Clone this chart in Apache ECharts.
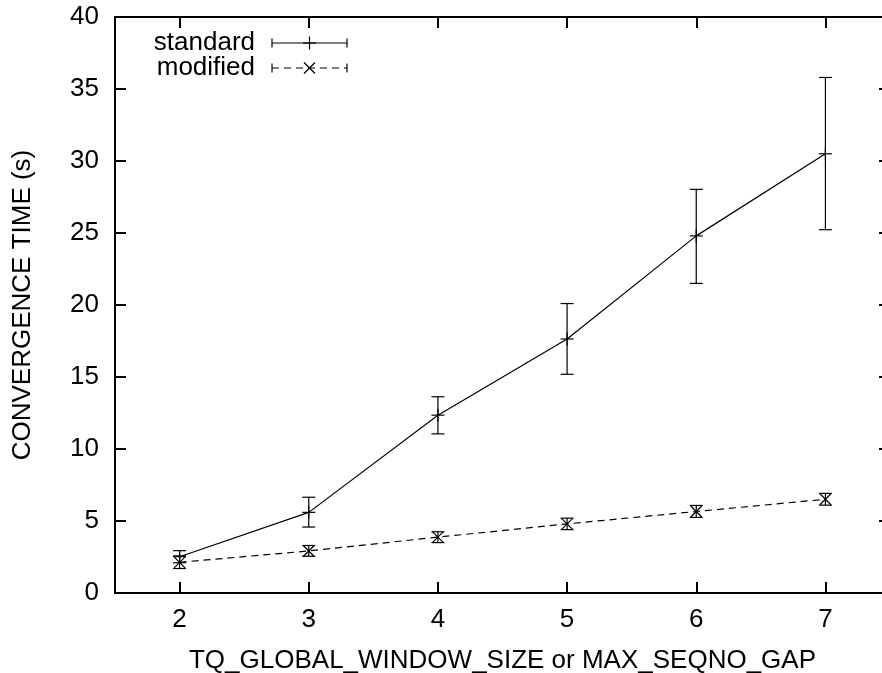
<!DOCTYPE html>
<html>
<head>
<meta charset="utf-8">
<script src="https://cdn.jsdelivr.net/npm/echarts@6/dist/echarts.min.js"></script>
<style>
  html, body { margin: 0; padding: 0; background: #fff; }
  #chart { width: 882px; height: 673px; }
</style>
</head>
<body>
<div id="chart"></div>
<script>
// Window size / sequence-number gap on the x axis
const windowSizes = [2, 3, 4, 5, 6, 7];
const xTickValues = [2, 3, 4, 5, 6, 7];

// Convergence time (s): mean with lower / upper error-bar ends
const standardMean = [2.52, 5.60, 12.35, 17.64, 24.80, 30.50];
const standardLow  = [2.10, 4.58, 11.05, 15.19, 21.50, 25.23];
const standardHigh = [2.94, 6.65, 13.63, 20.10, 28.03, 35.80];

const modifiedMean = [2.13, 2.92, 3.88, 4.80, 5.66, 6.51];
const modifiedLow  = [1.70, 2.55, 3.50, 4.40, 5.25, 6.10];
const modifiedHigh = [2.58, 3.30, 4.25, 5.20, 6.08, 6.92];

const FONT = "'Liberation Sans', Arial, Helvetica, sans-serif";
const INK = '#000';

function rows(mean, low, high) {
  return windowSizes.map((x, i) => [x, mean[i], low[i], high[i]]);
}

// Error bar with caps plus a marker ('plus' or 'cross') at the mean
function errorBarRenderer(marker) {
  return function (params, api) {
    const x = api.value(0);
    const c = api.coord([x, api.value(1)]);
    const lo = api.coord([x, api.value(2)]);
    const hi = api.coord([x, api.value(3)]);
    const cap = 6.5;
    const style = { stroke: INK, lineWidth: 1.2, fill: null };
    const seg = (x1, y1, x2, y2) => ({ type: 'line', shape: { x1, y1, x2, y2 }, style });
    const children = [
      seg(c[0], lo[1], c[0], hi[1]),
      seg(c[0] - cap, lo[1], c[0] + cap, lo[1]),
      seg(c[0] - cap, hi[1], c[0] + cap, hi[1])
    ];
    if (marker === 'plus') {
      const m = 6.5;
      children.push(seg(c[0] - m, c[1], c[0] + m, c[1]), seg(c[0], c[1] - m, c[0], c[1] + m));
    } else {
      const m = 5.5;
      children.push(seg(c[0] - m, c[1] - m, c[0] + m, c[1] + m), seg(c[0] - m, c[1] + m, c[0] + m, c[1] - m));
    }
    return { type: 'group', children };
  };
}

// Legend entry: label, sample line with end caps and a marker in the middle
function legendEntry(label, y, dashed, marker) {
  const x1 = 272, x2 = 347, xm = 309.5, cap = 4.5;
  const style = { stroke: INK, lineWidth: 1.2, fill: null };
  const els = [
    { type: 'text', x: 255, y: y,
      style: { text: label, font: '26px ' + FONT, fill: INK, textAlign: 'right', textVerticalAlign: 'middle' } },
    { type: 'line', shape: { x1, y1: y, x2, y2: y },
      style: Object.assign({}, style, dashed ? { lineDash: [7, 5] } : {}) },
    { type: 'line', shape: { x1, y1: y - cap, x2: x1, y2: y + cap }, style },
    { type: 'line', shape: { x1: x2, y1: y - cap, x2: x2, y2: y + cap }, style }
  ];
  if (marker === 'plus') {
    els.push({ type: 'line', shape: { x1: xm - 6.5, y1: y, x2: xm + 6.5, y2: y }, style });
    els.push({ type: 'line', shape: { x1: xm, y1: y - 6.5, x2: xm, y2: y + 6.5 }, style });
  } else {
    els.push({ type: 'line', shape: { x1: xm - 5.5, y1: y - 5.5, x2: xm + 5.5, y2: y + 5.5 }, style });
    els.push({ type: 'line', shape: { x1: xm - 5.5, y1: y + 5.5, x2: xm + 5.5, y2: y - 5.5 }, style });
  }
  return els;
}

const axisLine = { show: true, onZero: false, lineStyle: { color: INK, width: 2 } };
const tickStyle = { show: true, inside: true, length: 11, lineStyle: { color: INK, width: 2 } };

const chart = echarts.init(document.getElementById('chart'), null, { renderer: 'canvas' });

chart.setOption({
  animation: false,
  backgroundColor: '#fff',
  textStyle: { fontFamily: FONT, color: INK },
  // the plot box runs a little past the right edge of the canvas
  grid: { left: 115, top: 17, width: 775, height: 576, containLabel: false, outerBoundsMode: 'none' },
  xAxis: [
    {
      type: 'value', position: 'bottom', min: 1.5, max: 7.5,
      name: 'TQ_GLOBAL_WINDOW_SIZE or MAX_SEQNO_GAP',
      nameLocation: 'middle', nameGap: 55,
      nameTextStyle: { fontSize: 26, color: INK, fontFamily: FONT },
      axisLine,
      axisTick: Object.assign({ customValues: xTickValues }, tickStyle),
      axisLabel: { customValues: xTickValues, fontSize: 26, color: INK, fontFamily: FONT, margin: 14 },
      splitLine: { show: false }
    },
    {
      type: 'value', position: 'top', min: 1.5, max: 7.5,
      axisLine,
      axisTick: Object.assign({ customValues: xTickValues }, tickStyle),
      axisLabel: { show: false },
      splitLine: { show: false }
    }
  ],
  yAxis: [
    {
      type: 'value', position: 'left', min: 0, max: 40, interval: 5,
      name: 'CONVERGENCE TIME (s)',
      nameLocation: 'middle', nameGap: 79, nameRotate: 90,
      nameTextStyle: { fontSize: 26, color: INK, fontFamily: FONT },
      axisLine,
      axisTick: tickStyle,
      axisLabel: { fontSize: 26, color: INK, fontFamily: FONT, margin: 16 },
      splitLine: { show: false }
    },
    {
      type: 'value', position: 'right', min: 0, max: 40, interval: 5,
      axisLine,
      axisTick: tickStyle,
      axisLabel: { show: false },
      splitLine: { show: false }
    }
  ],
  series: [
    {
      name: 'standard', type: 'line', symbol: 'none',
      data: windowSizes.map((x, i) => [x, standardMean[i]]),
      lineStyle: { color: INK, width: 1.2 }, z: 2
    },
    {
      name: 'modified', type: 'line', symbol: 'none',
      data: windowSizes.map((x, i) => [x, modifiedMean[i]]),
      lineStyle: { color: INK, width: 1.2, type: [7, 5] }, z: 2
    },
    {
      name: 'standard bars', type: 'custom',
      renderItem: errorBarRenderer('plus'),
      data: rows(standardMean, standardLow, standardHigh),
      encode: { x: 0, y: [1, 2, 3] }, z: 3
    },
    {
      name: 'modified bars', type: 'custom',
      renderItem: errorBarRenderer('cross'),
      data: rows(modifiedMean, modifiedLow, modifiedHigh),
      encode: { x: 0, y: [1, 2, 3] }, z: 3
    }
  ],
  graphic: [].concat(
    legendEntry('standard', 43, false, 'plus'),
    legendEntry('modified', 68, true, 'cross')
  )
});
</script>
</body>
</html>
